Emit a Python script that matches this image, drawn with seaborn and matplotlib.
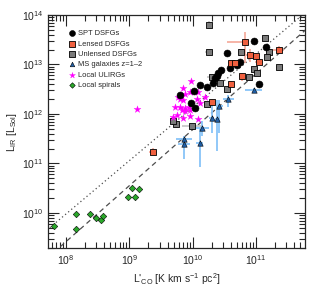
import numpy as np
import pandas as pd
import matplotlib
matplotlib.use("Agg")
import matplotlib.pyplot as plt
import seaborn as sns

# --- dados (L'CO [K km s^-1 pc^2], LIR [Lsol]) ---
spt_lco = [9.1e10, 1.43e11, 3.53e10, 5.6e10, 4.98e10, 3.9e10, 2.78e10, 2.55e10, 2.4e10,
           2.26e10, 2.08e10, 1.67e10, 1.28e10, 1.03e10, 6.2e9, 9.4e9, 1.09e10, 1.11e11]
spt_lir = [2.99e13, 2.29e13, 1.68e13, 1.14e13, 9.8e12, 8.4e12, 7.7e12, 6.6e12, 5.9e12,
           5.3e12, 4.2e12, 3.46e12, 3.86e12, 2.96e12, 2.42e12, 1.65e12, 1.30e12, 4.0e12]

lensed_lco = [6.6e10, 2.26e11, 7.9e10, 9.9e10, 1.12e11, 4.05e10, 4.68e10, 5.97e10, 4.0e10, 2.0e10, 2.34e9]
lensed_lir = [2.9e13, 1.96e13, 1.56e13, 1.49e13, 1.14e13, 1.09e13, 1.09e13, 5.9e12, 4.0e12, 1.77e12, 1.73e11]
# erros em dex (inferior, superior)
lensed_xlo = [0.28, 0.08, 0.05, 0.05, 0.06, 0.05, 0.05, 0.04, 0.05, 0.05, 0.06]
lensed_xhi = [0.06, 0.08, 0.05, 0.05, 0.06, 0.05, 0.05, 0.04, 0.05, 0.05, 0.06]
lensed_ylo = [0.44, 0.08, 0.15, 0.06, 0.06, 0.06, 0.06, 0.10, 0.06, 0.10, 0.07]
lensed_yhi = [0.20, 0.08, 0.12, 0.06, 0.06, 0.06, 0.06, 0.05, 0.06, 0.06, 0.07]

unlensed_lco = [1.82e10, 1.36e11, 1.82e10, 5.7e10, 1.57e11, 1.51e11, 2.32e11, 9.3e10, 1.03e11,
                7.6e10, 2.0e10, 2.71e10, 3.46e10, 1.67e10, 9.9e9, 5.5e9, 4.96e9]
unlensed_lir = [6.3e13, 3.4e13, 1.76e13, 1.76e13, 1.76e13, 1.44e13, 8.8e12, 8.1e12, 6.6e12,
                5.5e12, 5.7e12, 4.2e12, 3.16e12, 1.57e12, 5.7e11, 6.3e11, 7.2e11]
unlensed_xerr = [0.04, 0.04, 0.06, 0.04, 0.04, 0.04, 0.05, 0.04, 0.04,
                 0.04, 0.08, 0.04, 0.04, 0.04, 0.16, 0.04, 0.04]
unlensed_yerr = [0.08, 0.04, 0.04, 0.04, 0.04, 0.04, 0.05, 0.04, 0.04,
                 0.04, 0.04, 0.04, 0.04, 0.04, 0.04, 0.04, 0.04]

ms_lco = [9.1e10, 3.66e10, 2.64e10, 2.0e10, 2.45e10, 1.39e10, 7.3e9, 7.3e9, 1.28e10]
ms_lir = [3.05e12, 1.98e12, 1.45e12, 8.2e11, 7.9e11, 5.1e11, 3.1e11, 2.48e11, 2.63e11]
ms_xerr = [0.13, 0.08, 0.06, 0.04, 0.04, 0.12, 0.13, 0.10, 0.06]
ms_ylo = [0.04, 0.15, 0.55, 0.30, 0.65, 0.15, 0.06, 0.30, 0.50]
ms_yhi = [0.04, 0.08, 0.12, 0.35, 0.38, 0.15, 0.06, 0.08, 0.30]

ulirg_lco = [9.4e9, 6.98e9, 9.1e9, 7.6e9, 1.23e10, 1.57e10, 6.2e9, 7.1e9, 1.16e10, 5.3e9,
             6.3e9, 7.6e9, 8.6e9, 6.7e9, 5.7e9, 9.1e9, 7.1e9, 4.8e9, 1.19e10, 1.31e9,
             9.1e9, 7.6e9, 5.9e9, 1.28e10]
ulirg_lir = [4.7e12, 3.4e12, 2.83e12, 2.54e12, 2.83e12, 2.23e12, 1.98e12, 1.92e12, 2.0e12, 1.40e12,
             1.36e12, 1.30e12, 1.40e12, 1.20e12, 9.5e11, 9.1e11, 8.2e11, 8.6e11, 7.9e11, 1.24e12,
             1.2e12, 1.17e12, 2.23e12, 1.64e12]

spiral_lco = [6.4e7, 1.42e8, 1.42e8, 2.42e8, 2.94e8, 3.61e8, 3.85e8, 1.11e9, 1.42e9, 9.6e8, 1.24e9]
spiral_lir = [5.5e9, 9.4e9, 4.75e9, 9.4e9, 8.0e9, 7.2e9, 8.8e9, 3.25e10, 3.0e10, 2.13e10, 2.13e10]

# relações lineares em log (inclinação, intercepto)
DOTTED_REL = (1.078, 1.355)
DASHED_REL = (1.132, 0.364)


def dex_err(v, lo, hi):
    v = np.asarray(v)
    return [v - v / 10 ** np.asarray(lo), v * 10 ** np.asarray(hi) - v]


sns.set_style("ticks")
plt.rcParams['font.family'] = ['Liberation Sans', 'DejaVu Sans']
plt.rcParams['mathtext.fontset'] = 'custom'
plt.rcParams['mathtext.rm'] = 'Liberation Sans'
plt.rcParams['mathtext.it'] = 'Liberation Sans'

fig = plt.figure(figsize=(3.21, 2.92), dpi=100)
ax = fig.add_axes([0.1495, 0.1507, 0.8005, 0.7979])
ax.set_xscale("log")
ax.set_yscale("log")

xl = np.logspace(7.6, 11.9, 50)
ax.plot(xl, 10 ** (DOTTED_REL[0] * np.log10(xl) + DOTTED_REL[1]), ls=(0, (1, 2.2)),
        color="0.3", lw=0.9, zorder=1)
ax.plot(xl, 10 ** (DASHED_REL[0] * np.log10(xl) + DASHED_REL[1]), ls=(0, (4, 3)),
        color="0.3", lw=0.9, zorder=1)

# barras de erro
ax.errorbar(unlensed_lco, unlensed_lir, xerr=dex_err(unlensed_lco, unlensed_xerr, unlensed_xerr),
            yerr=dex_err(unlensed_lir, unlensed_yerr, unlensed_yerr),
            fmt="none", ecolor="#c4c4c4", elinewidth=1.2, capsize=0, zorder=2)
ax.errorbar(spt_lco, spt_lir, xerr=dex_err(spt_lco, 0.04, 0.04), yerr=dex_err(spt_lir, 0.05, 0.05),
            fmt="none", ecolor="#9a9a9a", elinewidth=0.9, capsize=0, zorder=2)
ax.errorbar(lensed_lco, lensed_lir, xerr=dex_err(lensed_lco, lensed_xlo, lensed_xhi),
            yerr=dex_err(lensed_lir, lensed_ylo, lensed_yhi),
            fmt="none", ecolor="#f5a898", elinewidth=1.2, capsize=0, zorder=2)
ax.errorbar(ms_lco, ms_lir, xerr=dex_err(ms_lco, ms_xerr, ms_xerr), yerr=dex_err(ms_lir, ms_ylo, ms_yhi),
            fmt="none", ecolor="#88c4f8", elinewidth=1.3, capsize=0, zorder=2)

# marcadores
sns.scatterplot(x=spt_lco, y=spt_lir, marker="o", color="black", edgecolor="black",
                s=25, linewidth=0.4, ax=ax, label="SPT DSFGs", zorder=4)
sns.scatterplot(x=lensed_lco, y=lensed_lir, marker="s", color="#f0603f", edgecolor="black",
                s=19, linewidth=0.6, ax=ax, label="Lensed DSFGs", zorder=4)
sns.scatterplot(x=unlensed_lco, y=unlensed_lir, marker="s", color="#7a7a7a", edgecolor="black",
                s=19, linewidth=0.6, ax=ax, label="Unlensed DSFGs", zorder=3)
sns.scatterplot(x=ms_lco, y=ms_lir, marker="^", color="#1f5fa8", edgecolor="black",
                s=15, linewidth=0.4, ax=ax, label="MS galaxies z=1\u20132", zorder=4)
sns.scatterplot(x=ulirg_lco, y=ulirg_lir, marker="*", color="#ff00ff", edgecolor="#ff00ff",
                s=28, linewidth=0.2, ax=ax, label="Local ULIRGs", zorder=3)
sns.scatterplot(x=spiral_lco, y=spiral_lir, marker="D", color="#2aa82a", edgecolor="black",
                s=11, linewidth=0.4, ax=ax, label="Local spirals", zorder=4)

ax.set_xlim(5.2e7, 5.9e11)
ax.set_ylim(1.96e9, 1e14)
ax.tick_params(which="both", direction="in", top=True, right=True, labelsize=7.5, width=0.8)
ax.tick_params(which="major", length=8)
ax.tick_params(which="minor", length=4)
for sp in ax.spines.values():
    sp.set_linewidth(0.9)

ax.set_xlabel(r"L'$_{\rm CO}$ [K km s$^{-1}$ pc$^{2}$]", fontsize=7.5, labelpad=3)
ax.set_ylabel(r"L$_{\rm IR}$ [L$_{\rm Sol}$]", fontsize=7.5, labelpad=2)

ax.legend(loc="upper left", bbox_to_anchor=(0.06, 0.955), frameon=False, fontsize=5.4,
          handletextpad=0.2, labelspacing=0.42, borderaxespad=0.2, markerscale=0.85, handlelength=1.2)

fig.savefig("out.png", dpi=100)
